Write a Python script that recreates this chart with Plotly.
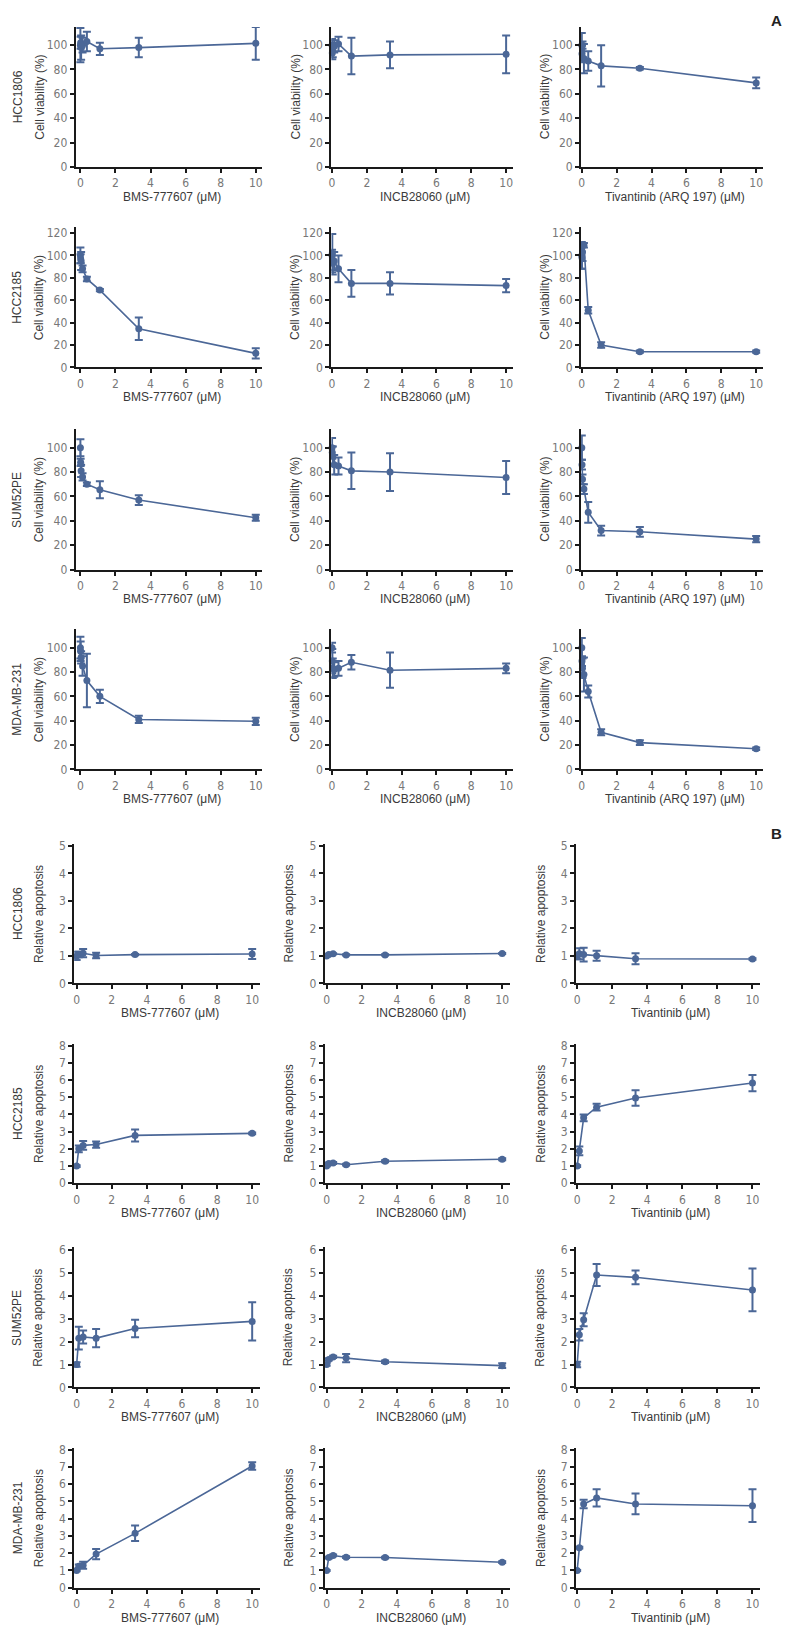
import plotly.graph_objects as go

# ---------------- DATA ----------------
cell_lines = ["HCC1806", "HCC2185", "SUM52PE", "MDA-MB-231"]
via_xtitles = ["BMS-777607 (μM)", "INCB28060 (μM)", "Tivantinib (ARQ 197) (μM)"]
apo_xtitles = ["BMS-777607 (μM)", "INCB28060 (μM)", "Tivantinib (μM)"]
via_ytitle = "Cell viability (%)"
apo_ytitle = "Relative apoptosis"

via_doses = [0, 0.0137, 0.041, 0.123, 0.37, 1.11, 3.33, 10]
apo_doses = [0, 0.123, 0.37, 1.11, 3.33, 10]
x_ticks = [0, 2, 4, 6, 8, 10]

# (A) cell viability (%), mean and error
via_hcc1806_bms = [100, 102, 98, 100, 103, 97, 98, 101.5]
via_hcc1806_bms_err = [14, 5, 10, 6, 8, 5, 8, 13.5]
via_hcc1806_incb = [100, 93.5, 96, 99, 101, 91, 92, 92.5]
via_hcc1806_incb_err = [5, 5, 6, 5, 6, 15, 11, 15.5]
via_hcc1806_tiv = [100, 93, 100, 89, 87, 83, 81, 69]
via_hcc1806_tiv_err = [10, 7, 3, 12, 8, 17, 1, 4.5]

via_hcc2185_bms = [100, 97, 95, 88, 79, 69, 34.5, 12.5]
via_hcc2185_bms_err = [7, 4, 8, 3, 2, 1, 10, 4.5]
via_hcc2185_incb = [100, 102, 93, 95, 88, 75, 75, 73]
via_hcc2185_incb_err = [5, 17, 10, 8, 12, 12, 10, 6]
via_hcc2185_tiv = [100, 98, 103, 109, 51, 20, 14, 14]
via_hcc2185_tiv_err = [12, 10, 8, 2, 3, 2.5, 1, 1]

via_sum52_bms = [100, 88, 81, 76, 70, 65.5, 57, 42.5]
via_sum52_bms_err = [7, 3, 5, 3, 1.5, 7, 4, 2.5]
via_sum52_incb = [100, 96, 93, 86, 85, 81, 80, 75.5]
via_sum52_incb_err = [8, 5, 8, 8, 7, 15, 15.5, 13.5]
via_sum52_tiv = [100, 86, 74, 66, 47, 32, 31, 25]
via_sum52_tiv_err = [10, 4, 4, 4, 8.5, 4, 4, 2.5]

via_mda_bms = [100, 97, 92, 85, 73, 60, 41, 39.5]
via_mda_bms_err = [9, 8, 5, 8, 22, 5.5, 3, 3]
via_mda_incb = [100, 89, 83, 82, 83, 88, 81.5, 83]
via_mda_incb_err = [4, 10, 8, 6, 6, 6, 14.5, 4]
via_mda_tiv = [100, 89, 83, 78, 64, 30.5, 22, 17]
via_mda_tiv_err = [8, 4, 8, 14, 5, 2.5, 2, 1]

# (B) relative apoptosis, mean and error
apo_hcc1806_bms = [1.0, 1.05, 1.1, 1.02, 1.05, 1.07]
apo_hcc1806_bms_err = [0.15, 0.1, 0.15, 0.1, 0.02, 0.18]
apo_hcc1806_incb = [1.0, 1.05, 1.08, 1.04, 1.04, 1.09]
apo_hcc1806_incb_err = [0.02, 0.02, 0.02, 0.02, 0.02, 0.02]
apo_hcc1806_tiv = [1.0, 1.08, 1.05, 1.01, 0.9, 0.89]
apo_hcc1806_tiv_err = [0.12, 0.2, 0.25, 0.18, 0.2, 0.03]

apo_hcc2185_bms = [1.0, 2.0, 2.2, 2.25, 2.78, 2.9]
apo_hcc2185_bms_err = [0.05, 0.2, 0.25, 0.18, 0.35, 0.05]
apo_hcc2185_incb = [1.0, 1.15, 1.18, 1.08, 1.28, 1.4]
apo_hcc2185_incb_err = [0.03, 0.05, 0.06, 0.05, 0.06, 0.06]
apo_hcc2185_tiv = [1.0, 1.88, 3.8, 4.42, 4.95, 5.82]
apo_hcc2185_tiv_err = [0.05, 0.25, 0.2, 0.2, 0.45, 0.47]

apo_sum52_bms = [1.0, 2.15, 2.2, 2.15, 2.57, 2.88]
apo_sum52_bms_err = [0.1, 0.5, 0.28, 0.4, 0.38, 0.83]
apo_sum52_incb = [1.0, 1.22, 1.33, 1.28, 1.12, 0.95]
apo_sum52_incb_err = [0.05, 0.05, 0.05, 0.18, 0.05, 0.1]
apo_sum52_tiv = [1.0, 2.3, 2.95, 4.9, 4.8, 4.25]
apo_sum52_tiv_err = [0.12, 0.25, 0.28, 0.48, 0.3, 0.93]

apo_mda_bms = [1.0, 1.25, 1.3, 1.95, 3.15, 7.05]
apo_mda_bms_err = [0.05, 0.1, 0.2, 0.3, 0.45, 0.22]
apo_mda_incb = [1.0, 1.75, 1.87, 1.77, 1.75, 1.48]
apo_mda_incb_err = [0.03, 0.05, 0.05, 0.05, 0.05, 0.05]
apo_mda_tiv = [1.0, 2.32, 4.85, 5.2, 4.85, 4.75]
apo_mda_tiv_err = [0.03, 0.05, 0.25, 0.5, 0.6, 0.95]

via_rows = [
    [(via_hcc1806_bms, via_hcc1806_bms_err), (via_hcc1806_incb, via_hcc1806_incb_err), (via_hcc1806_tiv, via_hcc1806_tiv_err)],
    [(via_hcc2185_bms, via_hcc2185_bms_err), (via_hcc2185_incb, via_hcc2185_incb_err), (via_hcc2185_tiv, via_hcc2185_tiv_err)],
    [(via_sum52_bms, via_sum52_bms_err), (via_sum52_incb, via_sum52_incb_err), (via_sum52_tiv, via_sum52_tiv_err)],
    [(via_mda_bms, via_mda_bms_err), (via_mda_incb, via_mda_incb_err), (via_mda_tiv, via_mda_tiv_err)],
]
apo_rows = [
    [(apo_hcc1806_bms, apo_hcc1806_bms_err), (apo_hcc1806_incb, apo_hcc1806_incb_err), (apo_hcc1806_tiv, apo_hcc1806_tiv_err)],
    [(apo_hcc2185_bms, apo_hcc2185_bms_err), (apo_hcc2185_incb, apo_hcc2185_incb_err), (apo_hcc2185_tiv, apo_hcc2185_tiv_err)],
    [(apo_sum52_bms, apo_sum52_bms_err), (apo_sum52_incb, apo_sum52_incb_err), (apo_sum52_tiv, apo_sum52_tiv_err)],
    [(apo_mda_bms, apo_mda_bms_err), (apo_mda_incb, apo_mda_incb_err), (apo_mda_tiv, apo_mda_tiv_err)],
]
via_ymax = [115, 125, 115, 115]
via_ytick_max = [100, 120, 100, 100]
apo_ymax = [5.08, 8.1, 6.1, 8.1]
apo_ytick_max = [5, 8, 6, 8]

# ---------------- LAYOUT / STYLE ----------------
PAGE_W, PAGE_H = 794, 1638
OFF = 8                      # default body margin of the html page
W, H = PAGE_W - OFF, PAGE_H - 2 * OFF
COLOR = "#4b6797"
AXC = "#1a1a1a"
TICKFONT = dict(family="Liberation Sans Narrow, DejaVu Sans Condensed, Arial Narrow, Liberation Sans, sans-serif",
                size=12, color="#777777")
TITLEFONT = dict(family="Liberation Sans, Arial, sans-serif", size=12, color="#3a3a3a")

# page-pixel x-domains and x-ranges per column (section A / section B)
A_xdom = [(73, 260), (330, 513), (581, 764)]
A_xrng = [(-0.27, 10.34), (-0.04, 10.42), (-0.04, 10.4)]
B_xdom = [(71.5, 258), (323.3, 510), (576, 760.5)]
B_xrng = [(-0.14, 10.43), (-0.11, 10.47), (-0.06, 10.41)]
# page-pixel y (bottom, top) per row
A_ydom = [(163, 22), (365, 224), (568.7, 427.5), (770, 629)]
B_ydom = [(985.7, 845), (1187, 1046.5), (1392.7, 1251.7), (1594.5, 1453.5)]

fig = go.Figure()
layout = {}
annotations = []


def px(xp):
    return (xp - OFF) / W


def py(yp):
    return 1 - (yp - OFF) / H


k = 0
sections = [
    (via_rows, via_doses, A_xdom, A_xrng, A_ydom, via_ymax, via_ytick_max, 20, via_xtitles, via_ytitle),
    (apo_rows, apo_doses, B_xdom, B_xrng, B_ydom, apo_ymax, apo_ytick_max, 1, apo_xtitles, apo_ytitle),
]
for (rows, doses, xdom, xrng, ydom, ymax, ytmax, dt, xtitles, ytitle) in sections:
    for r, row in enumerate(rows):
        yb, yt = ydom[r]
        for c, (means, errs) in enumerate(row):
            k += 1
            sfx = "" if k == 1 else str(k)
            x0, x1 = xdom[c]
            fig.add_trace(go.Scatter(
                x=doses, y=means,
                error_y=dict(type="data", array=errs, visible=True, color=COLOR, thickness=2, width=4),
                mode="lines+markers",
                line=dict(color=COLOR, width=1.6),
                marker=dict(color=COLOR, size=7),
                xaxis="x" + sfx, yaxis="y" + sfx,
                showlegend=False, cliponaxis=False,
            ))
            yticks = []
            v = 0
            while v <= ytmax[r] + 1e-9:
                yticks.append(v)
                v += dt
            layout["xaxis" + sfx] = dict(
                domain=[px(x0), px(x1)], range=list(xrng[c]), anchor="y" + sfx,
                showline=True, linewidth=2, linecolor=AXC, ticks="outside", ticklen=4,
                tickwidth=1.5, tickcolor=AXC, tickvals=x_ticks, tickfont=TICKFONT,
                showgrid=False, zeroline=False, fixedrange=True,
            )
            layout["yaxis" + sfx] = dict(
                domain=[py(yb), py(yt)], range=[0, ymax[r]], anchor="x" + sfx,
                showline=True, linewidth=2, linecolor=AXC, ticks="outside", ticklen=4,
                tickwidth=1.5, tickcolor=AXC, tickvals=yticks, tickfont=TICKFONT,
                showgrid=False, zeroline=False, fixedrange=True,
            )
            annotations.append(dict(
                x=px((x0 + x1) / 2 + 3), y=py(yb + 30), xref="paper", yref="paper",
                text=xtitles[c], showarrow=False, font=TITLEFONT,
                xanchor="center", yanchor="middle",
            ))
            annotations.append(dict(
                x=px(x0 - 36), y=py((yb + yt) / 2), xref="paper", yref="paper",
                text=ytitle, showarrow=False, font=TITLEFONT, textangle=-90,
                xanchor="center", yanchor="middle",
            ))
        annotations.append(dict(
            x=px(14.5), y=py((yb + yt) / 2), xref="paper", yref="paper",
            text=cell_lines[r], showarrow=False, font=TITLEFONT, textangle=-90,
            xanchor="center", yanchor="middle",
        ))

for lab, ly in (("A", 16), ("B", 835)):
    annotations.append(dict(x=px(777), y=py(ly), xref="paper", yref="paper", text="<b>%s</b>" % lab,
                            showarrow=False, font=dict(family="Liberation Sans, Arial", size=15, color="#222"),
                            xanchor="center", yanchor="middle"))

fig.update_layout(
    width=W, height=H, margin=dict(l=0, r=0, t=0, b=0),
    paper_bgcolor="white", plot_bgcolor="white",
    annotations=annotations, **layout,
)
fig.write_html("out.html")
